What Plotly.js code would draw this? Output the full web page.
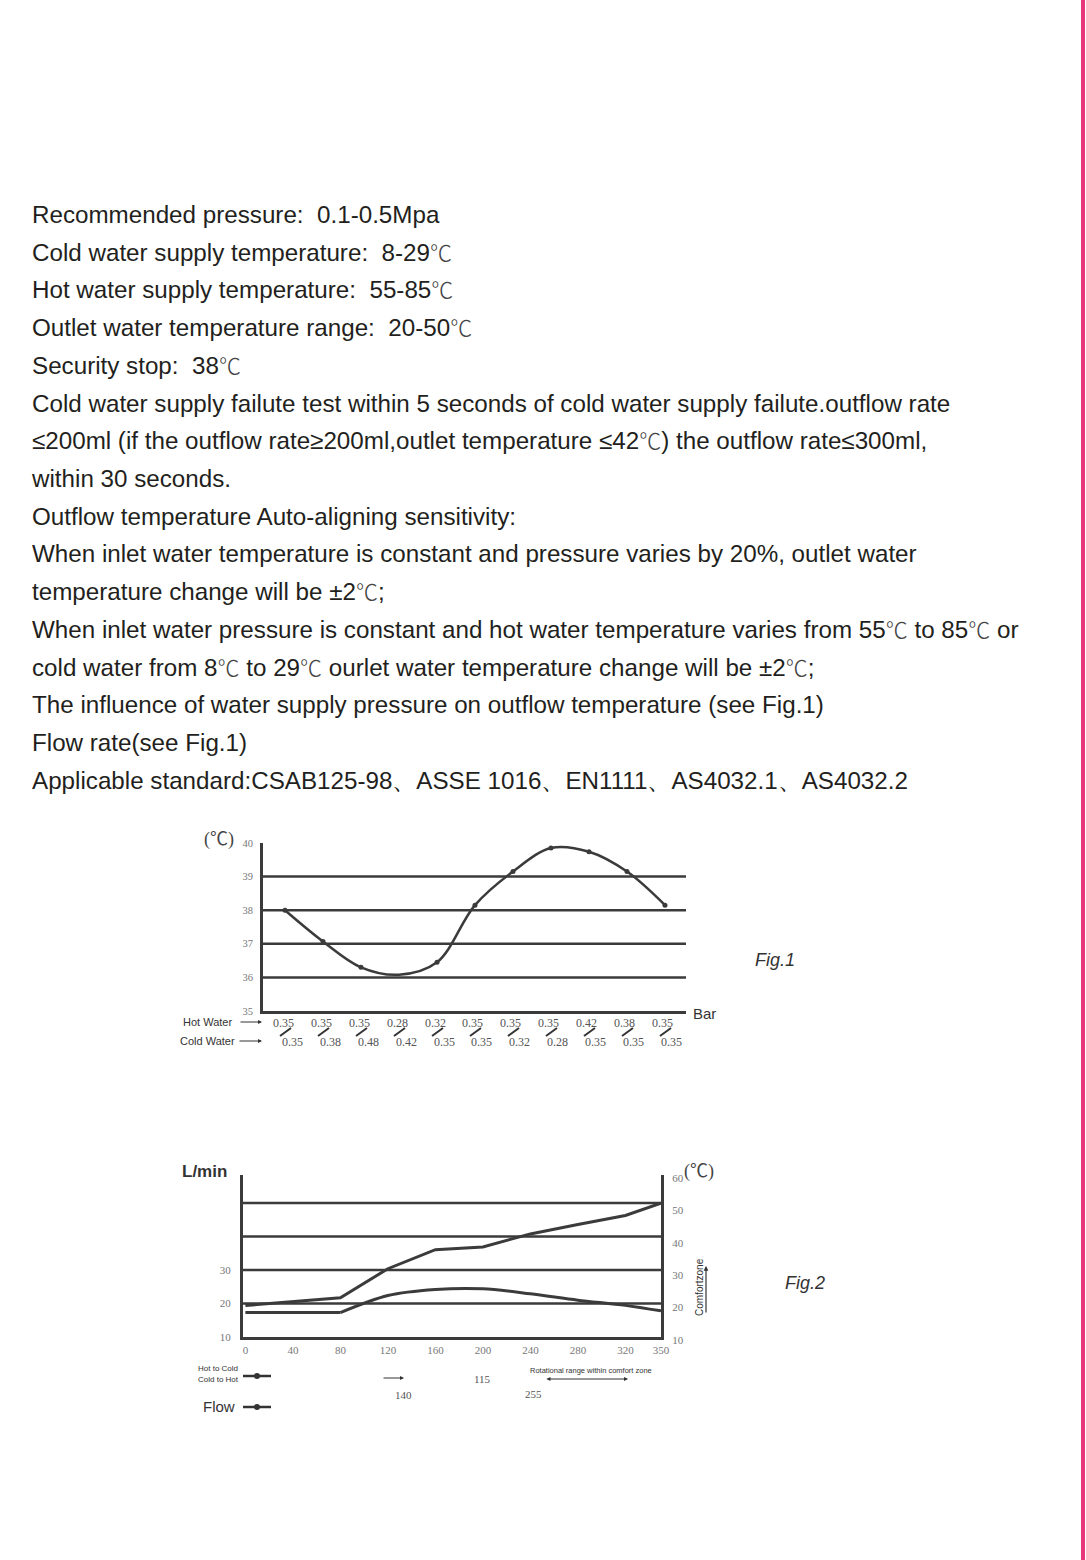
<!DOCTYPE html>
<html><head><meta charset="utf-8">
<script src="https://cdn.plot.ly/plotly-3.0.1.min.js"></script>
<style>
html,body{margin:0;padding:0;background:#fff;}
body{width:1086px;height:1560px;position:relative;overflow:hidden;font-family:"Liberation Sans",Arial,sans-serif;color:#231f20;}
#text{position:absolute;left:32px;top:196px;font-size:24.2px;white-space:pre;}
#text div{height:37.73px;line-height:37.73px;}
.deg{font-family:"Noto Sans CJK SC",sans-serif;font-weight:300;color:#444;font-size:22px;line-height:1;}
#bar{position:absolute;left:1081px;top:0;width:4px;height:1560px;background:#e9357b;}
#fig1{position:absolute;left:0;top:820px;width:1086px;height:240px;}
#fig2{position:absolute;left:0;top:1140px;width:1086px;height:300px;}
</style></head>
<body>
<div id="bar"></div>
<div id="text"></div>
<div id="fig1"></div>
<div id="fig2"></div>
<script>
// ---------- text ----------
const textLines = [
  "Recommended pressure:  0.1-0.5Mpa",
  "Cold water supply temperature:  8-29℃",
  "Hot water supply temperature:  55-85℃",
  "Outlet water temperature range:  20-50℃",
  "Security stop:  38℃",
  "Cold water supply failute test within 5 seconds of cold water supply failute.outflow rate",
  "≤200ml (if the outflow rate≥200ml,outlet temperature ≤42℃) the outflow rate≤300ml,",
  "within 30 seconds.",
  "Outflow temperature Auto-aligning sensitivity:",
  "When inlet water temperature is constant and pressure varies by 20%, outlet water",
  "temperature change will be ±2℃;",
  "When inlet water pressure is constant and hot water temperature varies from 55℃ to 85℃ or",
  "cold water from 8℃ to 29℃ ourlet water temperature change will be ±2℃;",
  "The influence of water supply pressure on outflow temperature (see Fig.1)",
  "Flow rate(see Fig.1)",
  "Applicable standard:CSAB125-98、ASSE 1016、EN1111、AS4032.1、AS4032.2"
];

// ---------- Fig.1 data ----------
const hotWater  = ["0.35","0.35","0.35","0.28","0.32","0.35","0.35","0.35","0.42","0.38","0.35"];
const coldWater = ["0.35","0.38","0.48","0.42","0.35","0.35","0.32","0.28","0.35","0.35","0.35"];
const pressureStep = [0,1,2,3,4,5,6,7,8,9,10];
const outletTemp = [38.0, 37.07, 36.3, 36.08, 36.45, 38.15, 39.15, 39.85, 39.74, 39.15, 38.15];
const measured   = [true,true,true,false,true,true,true,true,true,true,true];
const fig1YTicks = [35,36,37,38,39,40];
const fig1Grid   = [36,37,38,39];

// ---------- Fig.2 data ----------
const angleTicks = [0,40,80,120,160,200,240,280,320,350];
const tempAngle  = [0,40,80,120,160,200,240,280,320,350];
const tempCurve  = [19.4, 20.5, 21.7, 30.4, 36.1, 36.9, 40.8, 43.6, 46.3, 50.0];
const flowAngle  = [0,80,120,160,200,240,280,320,350];
const flowCurve  = [17.3, 17.3, 22.4, 24.2, 24.4, 22.9, 21.0, 19.45, 17.8];
const fig2LeftTicks  = [10,20,30];
const fig2RightTicks = [10,20,30,40,50,60];
const fig2Grid = [20,30,40,50];

// render text
document.getElementById('text').innerHTML = textLines
  .map(l => '<div>' + l.replace(/℃/g,'<span class="deg">℃</span>') + '</div>').join('');

const C = '#3b3b3b';
const serif = 'Liberation Serif, Times New Roman, serif';
const sans = 'Liberation Sans, Arial, sans-serif';
const cjk = 'Liberation Serif, Noto Sans CJK SC, serif';
const cfg = {staticPlot:true, displayModeBar:false};

// ---------- Fig.1 ----------
(function(){
  const L=263, R=686, T=843, B=1011, TOP=820, H=240;
  const px = p => (p-L)/(R-L), py = p => (B-p)/(B-T);
  const traces = [
    {x:pressureStep, y:outletTemp, mode:'lines', line:{shape:'spline', smoothing:1, color:C, width:2.5}, hoverinfo:'skip'},
    {x:pressureStep, y:outletTemp.map((v,i)=>measured[i]?v:null), mode:'markers', marker:{size:5, color:C}, hoverinfo:'skip'}
  ];
  const shapes = fig1Grid.map(v => ({type:'line', xref:'paper', x0:0, x1:1, yref:'y', y0:v, y1:v, line:{color:C, width:2.5}}));
  pressureStep.forEach(i => shapes.push({type:'line', xref:'x', xsizemode:'pixel', xanchor:i, x0:-5, x1:6,
    yref:'paper', ysizemode:'pixel', yanchor:0, y0:-25, y1:-17, line:{color:'#333', width:2}}));
  const ann = [];
  const base = {showarrow:false, xanchor:'center', yanchor:'middle'};
  pressureStep.forEach(i => {
    ann.push(Object.assign({x:i, xref:'x', y:0, yref:'paper', xshift:-2, yshift:-12, text:hotWater[i], font:{family:serif, size:12, color:'#555'}}, base));
    ann.push(Object.assign({x:i, xref:'x', y:0, yref:'paper', xshift:7, yshift:-31, text:coldWater[i], font:{family:serif, size:12, color:'#555'}}, base));
  });
  const t = (x,y,text,font,extra) => Object.assign({xref:'paper', yref:'paper', x:px(x), y:py(y), text:text, font:font}, base, extra||{});
  ann.push(t(234,1022,'Hot Water',{family:sans, size:11, color:'#333'},{xanchor:'right'}));
  ann.push(t(237,1041,'Cold Water',{family:sans, size:11, color:'#333'},{xanchor:'right'}));
  ann.push({xref:'paper', yref:'paper', x:px(262), y:py(1022), ax:-23, ay:0, text:'', showarrow:true, arrowhead:2, arrowsize:0.8, arrowwidth:1, arrowcolor:'#333'});
  ann.push({xref:'paper', yref:'paper', x:px(262), y:py(1041), ax:-24, ay:0, text:'', showarrow:true, arrowhead:2, arrowsize:0.8, arrowwidth:1, arrowcolor:'#333'});
  ann.push(t(691,1013,'Bar',{family:sans, size:15, color:'#333'},{xanchor:'left'}));
  ann.push(t(219,839,'(℃)',{family:cjk, size:18, color:'#444'}));
  ann.push(t(775,960,'Fig.1',{family:sans, size:18, color:'#333', style:'italic'}));
  const layout = {
    width:1086, height:H, margin:{l:L, r:1086-R, t:T-TOP, b:TOP+H-B},
    paper_bgcolor:'rgba(0,0,0,0)', plot_bgcolor:'rgba(0,0,0,0)', showlegend:false,
    xaxis:{range:[-0.579,10.553], showgrid:false, zeroline:false, showline:true, linecolor:C, linewidth:3, showticklabels:false, ticks:''},
    yaxis:{range:[35,40], tickvals:fig1YTicks, showgrid:false, zeroline:false, showline:true, linecolor:C, linewidth:3, ticks:'',
           tickfont:{family:serif, size:10.5, color:'#777'}, ticklabelstandoff:5},
    shapes:shapes, annotations:ann
  };
  Plotly.newPlot('fig1', traces, layout, cfg);
})();

// ---------- Fig.2 ----------
(function(){
  const L=243, R=661, T=1175, B=1337, TOP=1140, H=300;
  const px = p => (p-L)/(R-L), py = p => (B-p)/(B-T);
  const traces = [
    {x:tempAngle, y:tempCurve, mode:'lines', line:{color:C, width:3}, hoverinfo:'skip'},
    {x:flowAngle.slice(0,2), y:flowCurve.slice(0,2), mode:'lines', line:{color:C, width:3}, hoverinfo:'skip'},
    {x:flowAngle.slice(1), y:flowCurve.slice(1), mode:'lines', line:{color:C, width:3, shape:'spline', smoothing:0.9}, hoverinfo:'skip'},
    {x:[null], y:[null], yaxis:'y2', mode:'lines', hoverinfo:'skip'}
  ];
  const shapes = fig2Grid.map(v => ({type:'line', xref:'paper', x0:0, x1:1, yref:'y', y0:v, y1:v, line:{color:C, width:2.5}}));
  [1376, 1407].forEach(yy => {
    shapes.push({type:'line', xref:'paper', yref:'paper', x0:px(243), x1:px(271), y0:py(yy), y1:py(yy), line:{color:'#333', width:2.5}});
    shapes.push({type:'circle', xref:'paper', xsizemode:'pixel', xanchor:px(257), x0:-3, x1:3,
                 yref:'paper', ysizemode:'pixel', yanchor:py(yy), y0:-3, y1:3, fillcolor:'#333', line:{width:0}});
  });
  const base = {showarrow:false, xanchor:'center', yanchor:'middle'};
  const t = (x,y,text,font,extra) => Object.assign({xref:'paper', yref:'paper', x:px(x), y:py(y), text:text, font:font}, base, extra||{});
  const ann = [
    t(204,1172,'L/min',{family:sans,size:17,color:'#333',weight:'bold'}),
    t(699,1172,'(℃)',{family:cjk,size:18,color:'#444'}),
    t(699,1287,'Comfortzone',{family:sans,size:10,color:'#333'},{textangle:-90}),
    t(805,1283,'Fig.2',{family:sans,size:18,color:'#333',style:'italic'}),
    t(218,1368,'Hot to Cold',{family:sans,size:8,color:'#333'}),
    t(218,1379,'Cold to Hot',{family:sans,size:8,color:'#333'}),
    t(219,1406,'Flow',{family:sans,size:15,color:'#333'}),
    t(403,1395,'140',{family:serif,size:11,color:'#555'}),
    t(482,1379,'115',{family:serif,size:11,color:'#555'}),
    t(533,1394,'255',{family:serif,size:11,color:'#555'}),
    t(591,1370,'Rotational range within comfort zone',{family:sans,size:7.5,color:'#333'}),
    {xref:'paper', yref:'paper', x:px(404), y:py(1378), ax:-22, ay:0, text:'', showarrow:true, arrowhead:2, arrowsize:0.8, arrowwidth:1, arrowcolor:'#333'},
    {xref:'paper', yref:'paper', x:px(628), y:py(1379), ax:-83, ay:0, text:'', showarrow:true, arrowside:'end+start', arrowhead:2, arrowsize:0.8, arrowwidth:1, arrowcolor:'#333'},
    {xref:'paper', yref:'paper', x:px(706), y:py(1266), ax:0, ay:48, text:'', showarrow:true, arrowhead:2, arrowsize:0.8, arrowwidth:1.2, arrowcolor:'#333'}
  ];
  const layout = {
    width:1086, height:H, margin:{l:L, r:1086-R, t:T-TOP, b:TOP+H-B},
    paper_bgcolor:'rgba(0,0,0,0)', plot_bgcolor:'rgba(0,0,0,0)', showlegend:false,
    xaxis:{range:[-2,350], tickvals:angleTicks, showgrid:false, zeroline:false, showline:true, linecolor:C, linewidth:3, ticks:'',
           tickfont:{family:serif, size:11, color:'#777'}, ticklabelstandoff:1},
    yaxis:{range:[10,58.4], tickvals:fig2LeftTicks, showgrid:false, zeroline:false, showline:true, linecolor:C, linewidth:3, ticks:'',
           tickfont:{family:serif, size:11, color:'#777'}, ticklabelstandoff:7},
    yaxis2:{overlaying:'y', side:'right', anchor:'x', range:[10,60], tickvals:fig2RightTicks, showgrid:false, zeroline:false, showline:true,
           linecolor:C, linewidth:3, ticks:'', tickfont:{family:serif, size:11, color:'#777'}, ticklabelstandoff:6, ticklabelshift:3},
    shapes:shapes, annotations:ann
  };
  Plotly.newPlot('fig2', traces, layout, cfg);
})();
</script>
</body></html>
